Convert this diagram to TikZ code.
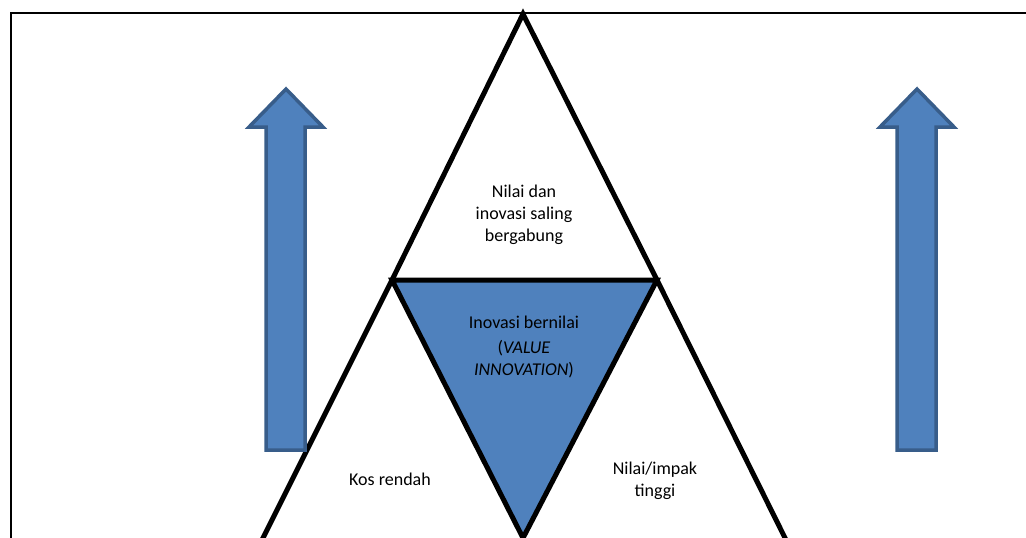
\documentclass[tikz,border=0pt]{standalone}
\usepackage{fontspec}
\setmainfont{Carlito}
\definecolor{blueFill}{HTML}{4F81BD}
\definecolor{blueLine}{HTML}{385D8A}
\tikzset{
  tri/.style={line width=5pt, line join=miter, black},
  upArrow/.style={fill=blueFill, draw=blueLine, line width=3.5pt, line join=miter},
  lbl/.style={align=center, font=\fontsize{18}{22}\selectfont, inner sep=0pt},
  frame/.style={line width=2pt, black}
}
\begin{document}
\begin{tikzpicture}[x=1pt,y=-1pt]
\useasboundingbox (0,0) rectangle (1026,538);
\begin{scope}
\clip (0,0) rectangle (1026,538);
% frame
\draw[frame] (1030,13) -- (11,13) -- (11,545);
% coordinates
\coordinate (apex) at (523,14);
\coordinate (bl) at (392,280);
\coordinate (br) at (657,280);
\coordinate (bot) at (523,538);
\coordinate (lfoot) at (258,548);
\coordinate (rfoot) at (790,548);
% blue triangle
\filldraw[tri, fill=blueFill] (bl) -- (br) -- (bot) -- cycle;
% top triangle
\draw[tri] (bl) -- (apex) -- (br);
% lower side legs
\draw[tri] (bl) -- (lfoot);
\draw[tri] (br) -- (rfoot);
% arrows
\draw[upArrow] (266,450) -- (266,127) -- (249,127) -- (286,89) -- (323,127) -- (305,127) -- (305,450) -- cycle;
\draw[upArrow] (897,450) -- (897,127) -- (880,127) -- (917,89) -- (954,127) -- (936,127) -- (936,450) -- cycle;
\end{scope}
% labels
\node[lbl] (top) at (524,215) {Nilai dan\\inovasi saling\\bergabung};
\node[lbl] (mid) at (524,347) {Inovasi bernilai\\[3pt](\textit{VALUE}\\\textit{INNOVATION})};
\node[lbl] (low) at (390,479) {Kos rendah};
\node[lbl] (high) at (655,481) {Nilai/impak\\tinggi};
\end{tikzpicture}
\end{document}
